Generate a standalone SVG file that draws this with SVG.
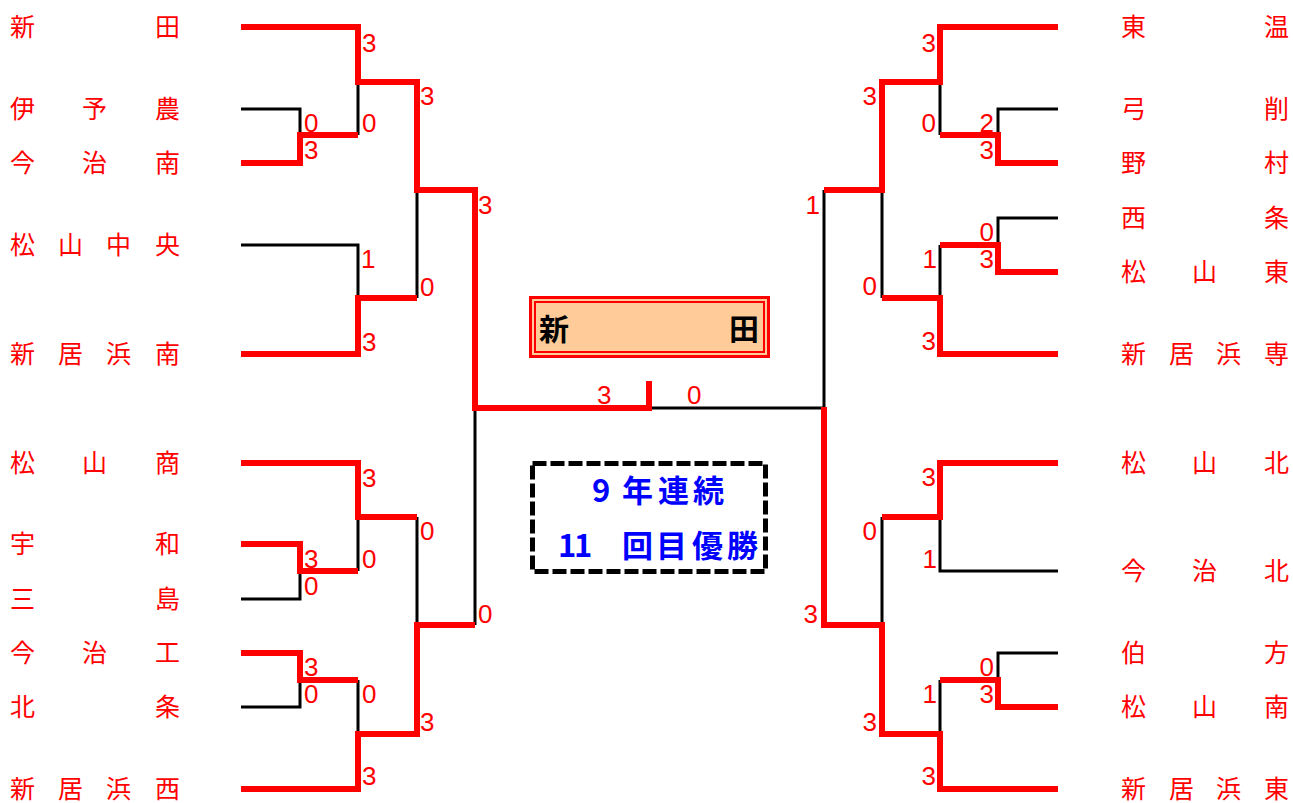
<svg xmlns="http://www.w3.org/2000/svg" width="1293" height="803" viewBox="0 0 1293 803">
<style>
.w{fill:none;stroke:#FF0000;stroke-width:6;stroke-linejoin:miter}
.l{fill:none;stroke:#000;stroke-width:3}
.t{font-family:"Noto Sans CJK JP","Noto Sans CJK SC",sans-serif;font-size:25px;fill:#FF0000}
.s{font-family:"Liberation Sans",Arial,sans-serif;font-size:26px;fill:#FF0000}
.e{text-anchor:end}
.c{font-family:"Noto Sans CJK JP","Noto Sans CJK SC",sans-serif;font-weight:bold}
</style>
<rect width="1293" height="803" fill="#fff"/>
<g id="connectors">
<path class="l" d="M241,109 H300 V135 M358,82 V135 M241,245 H358 V298 M417,190 V298 M358,517 V571 M241,599 H300 V571 M417,517 V625 M241,707 H300 V680 M358,680 V734 M475,408 V625 M652,408 H824 V190"/>
<path class="l" d="M1058,109 H998 V135 M940,82 V135 M1058,218 H998 V245 M940,245 V298 M882,190 V298 M1058,571 H940 V517 M882,517 V625 M1058,653 H998 V680 M940,680 V734"/>
<path class="w" d="M241,27 H358 V82 H417 V190 H475 V408 H649 V381"/>
<path class="w" d="M241,163 H300 V135 H358"/>
<path class="w" d="M241,354 H358 V298 H417"/>
<path class="w" d="M241,463 H358 V517 H417"/>
<path class="w" d="M241,544 H300 V571 H358"/>
<path class="w" d="M241,653 H300 V680 H358"/>
<path class="w" d="M241,789 H358 V734 H417 V625 H475"/>
<path class="w" d="M1058,27 H940 V82 H882 V190 H824"/>
<path class="w" d="M1058,163 H998 V135 H940"/>
<path class="w" d="M1058,272 H998 V245 H940"/>
<path class="w" d="M1058,354 H940 V298 H882"/>
<path class="w" d="M1058,463 H940 V517 H882"/>
<path class="w" d="M1058,707 H998 V680 H940"/>
<path class="w" d="M1058,789 H940 V734 H882 V625 H824 V407"/>
</g>
<g id="scores">
<text class="s" x="362" y="52">3</text>
<text class="s" x="304" y="132">0</text>
<text class="s" x="304" y="159">3</text>
<text class="s" x="362" y="132">0</text>
<text class="s" x="420" y="105">3</text>
<text class="s" x="478" y="214">3</text>
<text class="s" x="361" y="268">1</text>
<text class="s" x="420" y="296">0</text>
<text class="s" x="362" y="351">3</text>
<text class="s" x="362" y="487">3</text>
<text class="s" x="420" y="540">0</text>
<text class="s" x="304" y="568">3</text>
<text class="s" x="362" y="568">0</text>
<text class="s" x="304" y="595">0</text>
<text class="s" x="478" y="623">0</text>
<text class="s" x="304" y="676">3</text>
<text class="s" x="304" y="703">0</text>
<text class="s" x="362" y="703">0</text>
<text class="s" x="420" y="731">3</text>
<text class="s" x="362" y="785">3</text>
<text class="s" x="597" y="404">3</text>
<text class="s" x="687" y="404">0</text>
<text class="s e" x="936" y="52">3</text>
<text class="s e" x="877" y="105">3</text>
<text class="s e" x="936" y="132">0</text>
<text class="s e" x="994" y="132">2</text>
<text class="s e" x="994" y="159">3</text>
<text class="s e" x="820" y="214">1</text>
<text class="s e" x="994" y="241">0</text>
<text class="s e" x="994" y="268">3</text>
<text class="s e" x="937" y="268">1</text>
<text class="s e" x="877" y="295">0</text>
<text class="s e" x="936" y="350">3</text>
<text class="s e" x="936" y="486">3</text>
<text class="s e" x="877" y="540">0</text>
<text class="s e" x="937" y="568">1</text>
<text class="s e" x="818" y="623">3</text>
<text class="s e" x="994" y="676">0</text>
<text class="s e" x="937" y="703">1</text>
<text class="s e" x="994" y="703">3</text>
<text class="s e" x="877" y="731">3</text>
<text class="s e" x="936" y="785">3</text>
</g>
<g id="team-niita"><text class="t" x="10 155" y="36">新田</text></g>
<g id="team-iyono"><text class="t" x="10 82 155" y="118">伊予農</text></g>
<g id="team-imabariminami"><text class="t" x="10 82 155" y="172">今治南</text></g>
<g id="team-matsuyamachuo"><text class="t" x="10 58 106 155" y="254">松山中央</text></g>
<g id="team-niihamaminami"><text class="t" x="10 58 106 155" y="363">新居浜南</text></g>
<g id="team-matsuyamasho"><text class="t" x="10 82 155" y="472">松山商</text></g>
<g id="team-uwa"><text class="t" x="10 155" y="553">宇和</text></g>
<g id="team-mishima"><text class="t" x="10 155" y="608">三島</text></g>
<g id="team-imabarikou"><text class="t" x="10 82 155" y="662">今治工</text></g>
<g id="team-hojo"><text class="t" x="10 155" y="716">北条</text></g>
<g id="team-niihamanishi"><text class="t" x="10 58 106 155" y="798">新居浜西</text></g>
<g id="team-toon"><text class="t" x="1121 1264" y="36">東温</text></g>
<g id="team-yuge"><text class="t" x="1121 1264" y="118">弓削</text></g>
<g id="team-nomura"><text class="t" x="1121 1264" y="172">野村</text></g>
<g id="team-saijo"><text class="t" x="1121 1264" y="227">西条</text></g>
<g id="team-matsuyamahigashi"><text class="t" x="1121 1192 1264" y="281">松山東</text></g>
<g id="team-niihamasen"><text class="t" x="1121 1169 1216 1264" y="363">新居浜専</text></g>
<g id="team-matsuyamakita"><text class="t" x="1121 1192 1264" y="472">松山北</text></g>
<g id="team-imabarikita"><text class="t" x="1121 1192 1264" y="580">今治北</text></g>
<g id="team-hakata"><text class="t" x="1121 1264" y="662">伯方</text></g>
<g id="team-matsuyamaminami"><text class="t" x="1121 1192 1264" y="716">松山南</text></g>
<g id="team-niihamahigashi"><text class="t" x="1121 1169 1216 1264" y="798">新居浜東</text></g>
<g id="champion">
<rect x="530.5" y="297.5" width="238" height="59" fill="#FFCC99" stroke="#FF0000" stroke-width="3"/>
<rect x="535" y="302" width="229" height="50" fill="none" stroke="#FF0000" stroke-width="2"/>
<text class="c" x="539 729" y="340" font-size="30" fill="#000">新田</text>
</g>
<g id="record">
<rect x="532.5" y="463.5" width="233" height="108" fill="#fff" stroke="#000" stroke-width="5" stroke-dasharray="14 4"/>
<text class="c" x="592 622 658 693" y="502" font-size="31" fill="#0000FF">9年連続</text>
<text class="c" x="558 574 622 656 692 727" y="557" font-size="31" fill="#0000FF">11回目優勝</text>
</g>
</svg>
